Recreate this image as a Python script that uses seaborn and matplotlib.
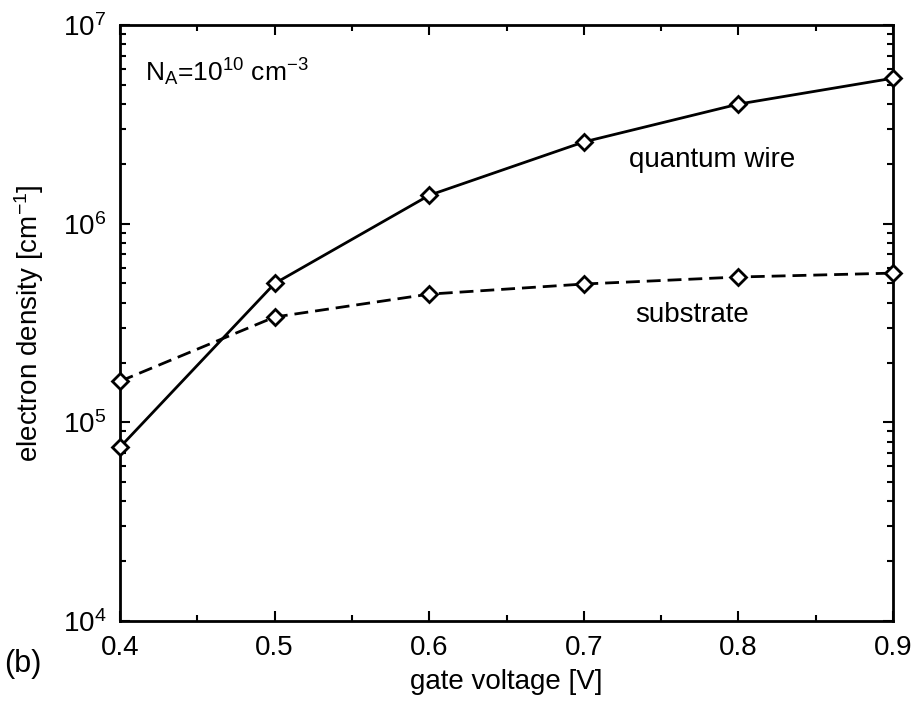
import pandas as pd
import matplotlib.pyplot as plt
import seaborn as sns

# === Data
gate_voltage = [0.4, 0.5, 0.6, 0.7, 0.8, 0.9]
wire_density = [7.5e4, 5.0e5, 1.39e6, 2.58e6, 4.0e6, 5.4e6]
substrate_density = [1.61e5, 3.39e5, 4.42e5, 4.97e5, 5.39e5, 5.64e5]

df = pd.DataFrame({
    "gate voltage": gate_voltage * 2,
    "density": wire_density + substrate_density,
    "series": ["quantum wire"] * 6 + ["substrate"] * 6,
})

sns.set_style("ticks")
plt.rcParams['font.family'] = ['Liberation Sans', 'DejaVu Sans']
plt.rcParams['mathtext.fontset'] = 'custom'
plt.rcParams['mathtext.rm'] = 'Liberation Sans'
plt.rcParams['mathtext.it'] = 'Liberation Sans'
plt.rcParams['text.color'] = 'black'
plt.rcParams['axes.labelcolor'] = 'black'
plt.rcParams['xtick.color'] = 'black'
plt.rcParams['ytick.color'] = 'black'
plt.rcParams['axes.edgecolor'] = 'black'

fig = plt.figure(figsize=(9.16, 7.03), dpi=100)
ax = fig.add_axes([0.131, 0.1166, 0.844, 0.8478])

sns.lineplot(data=df, x="gate voltage", y="density", style="series",
             dashes={"quantum wire": "", "substrate": (5, 2.5)},
             color="black", linewidth=2, ax=ax, legend=False)
for name, vals in [("quantum wire", wire_density), ("substrate", substrate_density)]:
    ax.plot(gate_voltage, vals, linestyle="none", marker="D", markersize=8.5,
            markerfacecolor="white", markeredgecolor="black", markeredgewidth=2,
            clip_on=False, zorder=5)

ax.set_yscale("log")
ax.set_xlim(0.4, 0.9)
ax.set_ylim(1e4, 1e7)
ax.set_xticks([0.4, 0.5, 0.6, 0.7, 0.8, 0.9])
ax.set_xticks([0.45, 0.55, 0.65, 0.75, 0.85], minor=True)
ax.set_yticks([1e4, 1e5, 1e6, 1e7])
ax.set_yticklabels([r"$10^4$", r"$10^5$", r"$10^6$", r"$10^7$"])
ax.tick_params(which="both", direction="in", top=True, right=True, width=1.5, labelsize=20, pad=10)
ax.tick_params(which="major", length=7)
ax.tick_params(which="minor", length=4)
for s in ax.spines.values():
    s.set_linewidth(2)

ax.set_xlabel("gate voltage [V]", fontsize=20, labelpad=6)
ax.set_ylabel(r"electron density [cm$^{-1}$]", fontsize=20, labelpad=12)

ax.text(0.783, 2.1e6, "quantum wire", fontsize=20, ha="center", va="center")
ax.text(0.770, 3.47e5, "substrate", fontsize=20, ha="center", va="center")
ax.text(0.416, 5.8e6, r"N$_{\rm A}$=10$^{10}$ cm$^{-3}$", fontsize=19, ha="left", va="center")
fig.text(0.005, 0.055, "(b)", fontsize=22, ha="left", va="center")

plt.savefig("out.png", dpi=100)
plt.close()
